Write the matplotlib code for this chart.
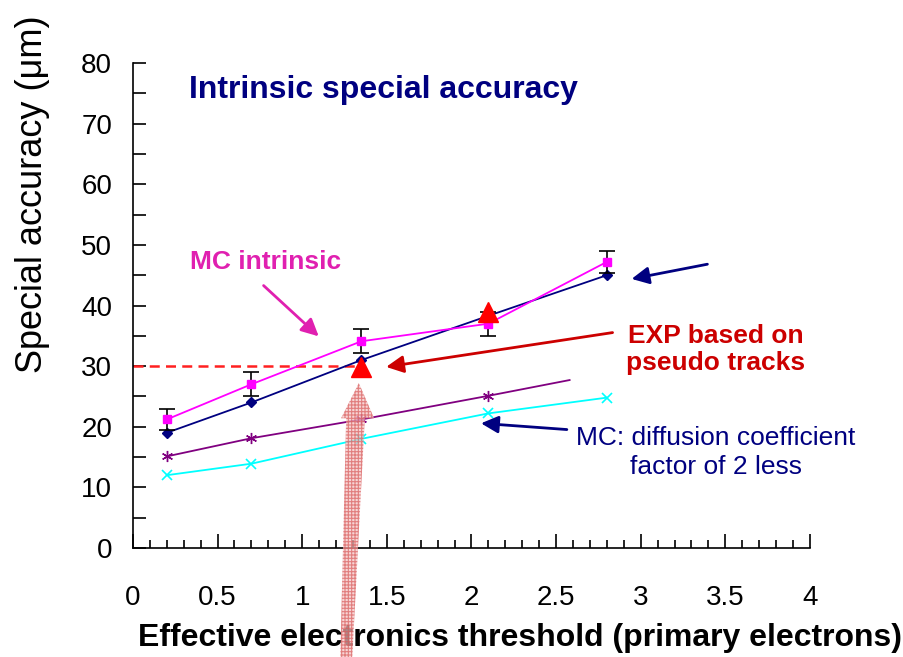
import numpy as np
import matplotlib.pyplot as plt
from matplotlib.patches import Polygon
from matplotlib.ticker import MultipleLocator

plt.rcParams['font.family'] = ['Liberation Sans', 'DejaVu Sans']

# MC intrinsic (magenta squares) with error bars
x_mc = [0.2, 0.7, 1.35, 2.1, 2.8]
y_mc = [21.2, 27.0, 34.1, 37.0, 47.2]
err_mc = [1.8, 2.0, 2.0, 2.0, 1.8]

# navy diamonds
x_nv = [0.2, 0.7, 1.35, 2.1, 2.8]
y_nv = [19.0, 24.0, 31.0, 38.3, 45.0]

# EXP based on pseudo tracks
x_exp = [1.35, 2.1]
y_exp = [29.8, 38.9]

# purple asterisks (last point is line end only)
x_pu = [0.2, 0.7, 1.35, 2.1, 2.58]
y_pu = [15.1, 18.1, 21.2, 25.1, 27.7]

# MC: diffusion coefficient factor of 2 less (cyan crosses)
x_cy = [0.2, 0.7, 1.35, 2.1, 2.8]
y_cy = [12.0, 13.9, 18.0, 22.2, 24.8]

ref_level = 30
ref_end = 1.36

fig = plt.figure(figsize=(9.04, 6.57), dpi=100)
ax = fig.add_axes([0.147, 0.166, 0.749, 0.738])

ax.plot([0, ref_end], [ref_level, ref_level], color='#ff2020', lw=1.8, ls=(0, (4, 2.5)), zorder=2)

ax.plot(x_cy, y_cy, color='#00ffff', lw=1.3, marker='x', ms=7, mew=1.2, zorder=3)
ax.plot(x_pu, y_pu, color='#800080', lw=1.3, marker=(6, 2, 0), ms=8, mew=1.0,
        markevery=[0, 1, 2, 3], zorder=3)
ax.plot(x_nv, y_nv, color='#000080', lw=1.3, marker='D', ms=5, zorder=3)
ax.errorbar(x_mc, y_mc, yerr=err_mc, color='#ff00ff', lw=1.3, marker='s', ms=6,
            ecolor='black', elinewidth=1.2, capsize=5.5, capthick=1.2, zorder=4)
ax.plot(x_exp, y_exp, ls='none', marker='^', ms=14, color='#ff0000', zorder=5)

ax.set_xlim(0, 4)
ax.set_ylim(0, 80)
ax.xaxis.set_major_locator(MultipleLocator(0.5))
ax.xaxis.set_minor_locator(MultipleLocator(0.1))
ax.yaxis.set_major_locator(MultipleLocator(10))
ax.yaxis.set_minor_locator(MultipleLocator(5))
ax.tick_params(which='both', direction='in', labelsize=20, width=1.2)
ax.tick_params(axis='x', which='major', length=10, pad=27)
ax.tick_params(axis='x', which='minor', length=6)
ax.tick_params(axis='y', which='both', length=9, pad=15)
ax.xaxis.set_major_formatter(plt.FuncFormatter(lambda v, p: f'{v:g}'))
for s in ['top', 'right']:
    ax.spines[s].set_visible(False)
for s in ['left', 'bottom']:
    ax.spines[s].set_linewidth(1.2)

ax.set_xlabel('Effective electronics threshold (primary electrons)', fontsize=23,
              fontweight='bold')
ax.xaxis.set_label_coords(0.571, -0.155)
ax.set_ylabel('Special accuracy (\u03bcm)', fontsize=26)
ax.yaxis.set_label_coords(-0.122, 0.73)

ax.text(0.33, 75.6, 'Intrinsic special accuracy', color='#000080', fontsize=23,
        fontweight='bold', va='center')
ax.text(0.337, 47.2, 'MC intrinsic', color='#e020b0', fontsize=19,
        fontweight='bold', va='center')
ax.text(3.97, 32.8, 'EXP based on\npseudo tracks', color='#cc0000', fontsize=19,
        fontweight='bold', ha='right', va='center', multialignment='center', linespacing=1.15)
ax.text(2.62, 15.8, 'MC: diffusion coefficient\nfactor of 2 less', color='#000080',
        fontsize=19, ha='left', va='center', multialignment='center', linespacing=1.27)

arrow = dict(arrowstyle='-|>', lw=2, mutation_scale=26)
ax.annotate('', xy=(1.11, 34.6), xytext=(0.76, 43.6),
            arrowprops=dict(arrow, color='#e020b0'))
ax.annotate('', xy=(1.48, 29.8), xytext=(2.85, 35.6),
            arrowprops=dict(arrow, color='#cc0000'))
ax.annotate('', xy=(2.93, 44.3), xytext=(3.41, 46.9),
            arrowprops=dict(arrow, color='#000080'))
ax.annotate('', xy=(2.04, 20.6), xytext=(2.58, 19.5),
            arrowprops=dict(arrow, color='#000080'))

# big upward arrow from below the axis
tip_x, tip_y = 1.335, 27.2
pts = [(tip_x, tip_y), (1.425, 21.4), (1.37, 21.4), (1.295, -18.5),
       (1.225, -18.5), (1.26, 21.4), (1.23, 21.4)]
plt.rcParams['hatch.linewidth'] = 0.8
ax.add_patch(Polygon(pts, closed=True, facecolor='#f4c4c4', edgecolor='#d85a5a',
                     hatch='+++++', alpha=0.7, lw=0, clip_on=False, zorder=6))

fig.savefig('out.png', dpi=100)
